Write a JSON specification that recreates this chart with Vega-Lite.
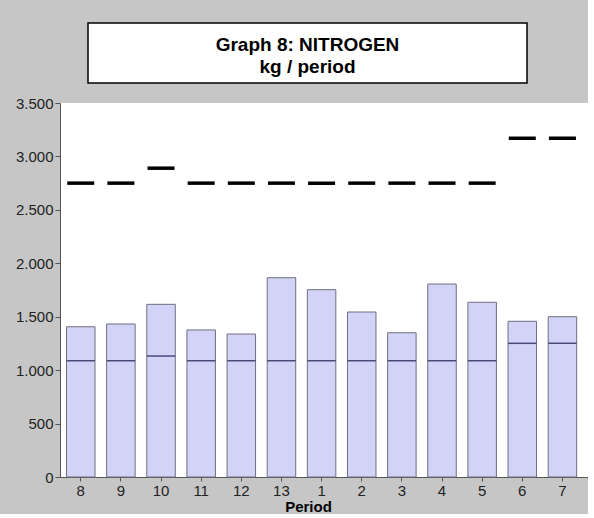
{
  "$schema": "https://vega.github.io/schema/vega-lite/v6.json",
  "background": "#c6c6c6",
  "padding": {"left": 15, "top": 22, "right": 0, "bottom": 0},
  "config": {
    "font": "Liberation Sans",
    "view": {"stroke": null, "fill": "white"},
    "concat": {"spacing": 12}
  },
  "vconcat": [
    {
      "spacing": 0,
      "hconcat": [
        {
          "width": 27,
          "height": 60,
          "view": {"fill": null, "stroke": null},
          "data": {"values": []},
          "mark": "point",
          "encoding": {}
        },
        {
          "width": 439,
          "height": 60,
          "view": {"fill": "white", "stroke": "black", "strokeWidth": 1.5},
          "data": {"values": [{"title": "Graph 8: NITROGEN / kg / period"}]},
          "mark": {
            "type": "text",
            "text": ["Graph 8: NITROGEN", "kg / period"],
            "fontWeight": "bold",
            "fontSize": 19,
            "lineHeight": 22,
            "color": "black",
            "baseline": "middle",
            "align": "center",
            "dy": -8
          },
          "encoding": {}
        }
      ]
    },
    {
      "width": 528,
      "height": 374,
      "data": {
        "values": [
          {"period": "8", "total": 1406, "base": 1088, "limit": 2750},
          {"period": "9", "total": 1432, "base": 1088, "limit": 2750},
          {"period": "10", "total": 1616, "base": 1132, "limit": 2890},
          {"period": "11", "total": 1376, "base": 1088, "limit": 2750},
          {"period": "12", "total": 1338, "base": 1088, "limit": 2750},
          {"period": "13", "total": 1865, "base": 1088, "limit": 2750},
          {"period": "1", "total": 1753, "base": 1088, "limit": 2750},
          {"period": "2", "total": 1544, "base": 1088, "limit": 2750},
          {"period": "3", "total": 1350, "base": 1088, "limit": 2750},
          {"period": "4", "total": 1806, "base": 1088, "limit": 2750},
          {"period": "5", "total": 1635, "base": 1088, "limit": 2750},
          {"period": "6", "total": 1457, "base": 1251, "limit": 3170},
          {"period": "7", "total": 1500, "base": 1251, "limit": 3170}
        ]
      },
      "encoding": {
        "x": {
          "field": "period",
          "type": "nominal",
          "sort": null,
          "scale": {"paddingInner": 0.29, "paddingOuter": 0.222, "align": 0.365},
          "axis": {
            "title": "Period",
            "titleFont": "Liberation Sans",
            "titleFontSize": 15,
            "titleFontWeight": "bold",
            "titleColor": "black",
            "titlePadding": 1,
            "titleX": 248,
            "labelAngle": 0,
            "labelFontSize": 15,
            "labelColor": "#222222",
            "labelPadding": 2,
            "tickSize": 4,
            "tickColor": "#555555",
            "domainColor": "#555555",
            "grid": false
          }
        }
      },
      "layer": [
        {
          "mark": {"type": "bar", "fill": "#d3d3f7", "stroke": "#6e6e80", "strokeWidth": 1},
          "encoding": {
            "y": {
              "field": "total",
              "type": "quantitative",
              "scale": {"domain": [0, 3500], "nice": false},
              "axis": {
                "title": null,
                "values": [0, 250, 500, 750, 1000, 1250, 1500, 1750, 2000, 2250, 2500, 2750, 3000, 3250, 3500],
                "labelExpr": "datum.value % 500 === 0 ? replace(format(datum.value, ','), ',', '.') : ''",
                "labelFontSize": 15,
                "labelColor": "#222222",
                "labelPadding": 2,
                "tickSize": {"condition": {"test": "datum.value % 500 === 0", "value": 5}, "value": 3},
                "tickColor": "#555555",
                "domainColor": "#555555",
                "grid": false
              }
            }
          }
        },
        {
          "mark": {"type": "tick", "color": "#4a4a78", "opacity": 1, "thickness": 1.5, "size": 28.5},
          "encoding": {
            "y": {"field": "base", "type": "quantitative"}
          }
        },
        {
          "mark": {"type": "tick", "color": "black", "opacity": 1, "thickness": 3.5, "size": 27},
          "encoding": {
            "y": {"field": "limit", "type": "quantitative"}
          }
        }
      ]
    }
  ]
}
